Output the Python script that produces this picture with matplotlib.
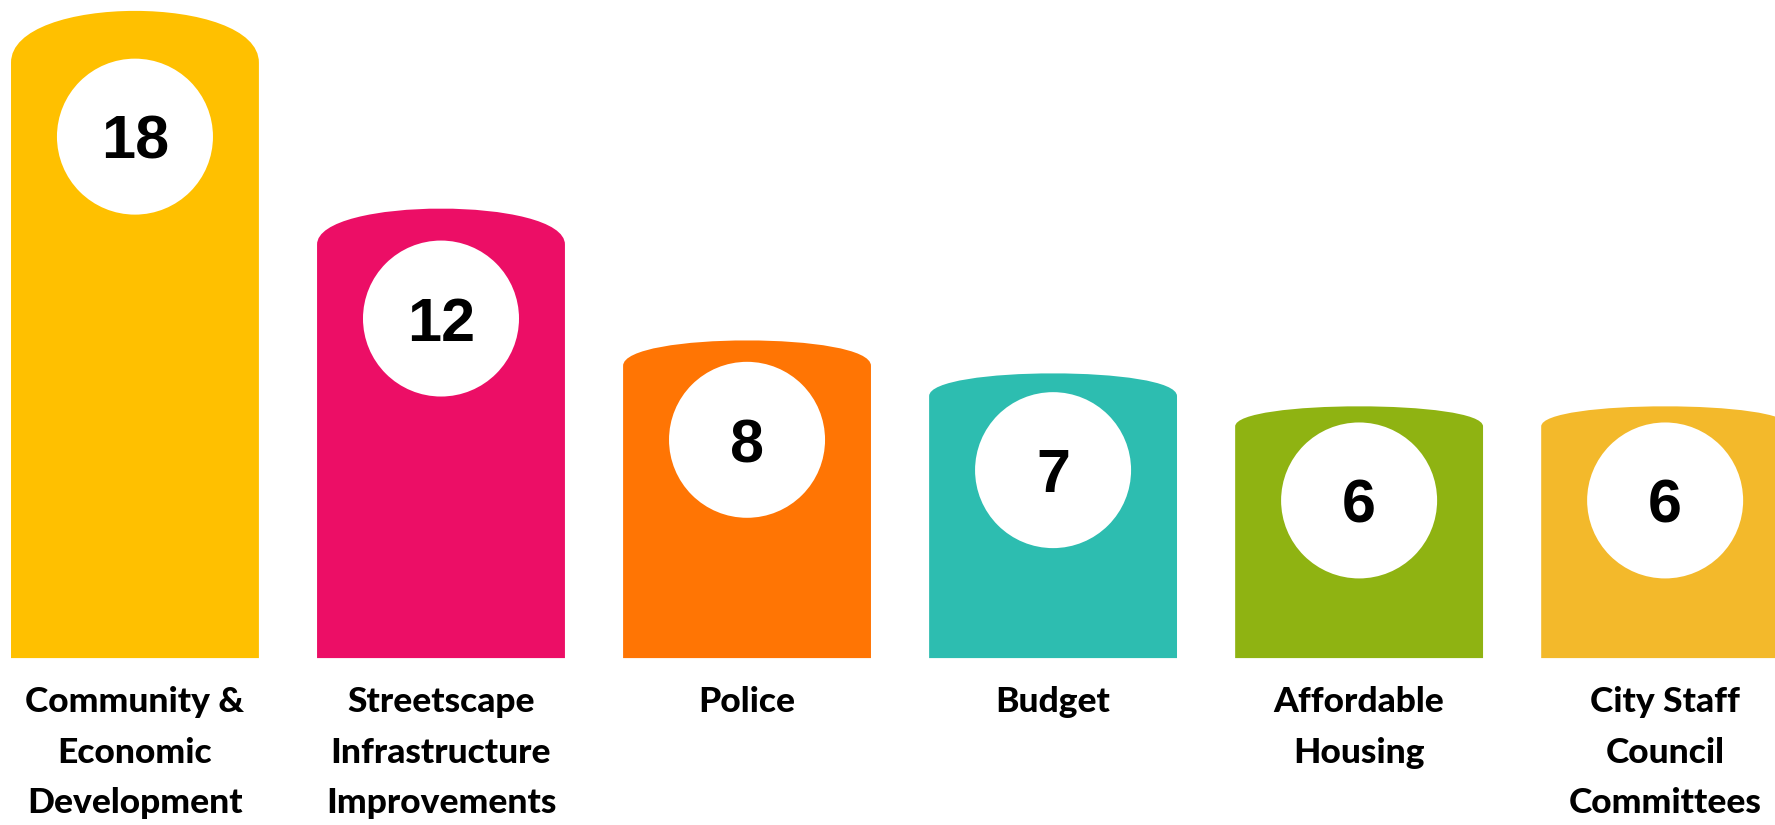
import matplotlib
matplotlib.use("Agg")
import matplotlib.pyplot as plt
from matplotlib.path import Path
from matplotlib.patches import PathPatch, Ellipse

# Data
categories = [
    "Community &\nEconomic\nDevelopment",
    "Streetscape\nInfrastructure\nImprovements",
    "Police",
    "Budget",
    "Affordable\nHousing",
    "City Staff\nCouncil\nCommittees",
]
counts = [18, 12, 8, 7, 6, 6]
colors = ["#FFC000", "#EC0E66", "#FF7504", "#2DBDB0", "#8FB312", "#F3B92B"]

# Layout
W, H, DPI = 17.75, 8.25, 100
BASE = -1.64            # value where the bars start
BAR_W = 0.81            # bar width in category units
PX_X = 306.0            # pixels per category step
PX_Y = 32.96            # pixels per unit of value
DOME_FRAC = 0.08        # dome height as a share of the bar height
CIRCLE_R = 78.0         # circle radius in pixels
CIRCLE_GAP = 74.0       # circle centre below the dome shoulder, pixels

fig = plt.figure(figsize=(W, H), dpi=DPI)
ax = fig.add_axes([0, 0, 1, 1])
ax.set_xlim(-0.441, 5.359)
ax.set_ylim(-6.705, 18.33)
ax.axis("off")

for i, (label, v, c) in enumerate(zip(categories, counts, colors)):
    left, right = i - BAR_W / 2, i + BAR_W / 2
    dome = DOME_FRAC * (v - BASE)
    shoulder = v - dome
    k = 4.0 / 3.0 * dome
    verts = [
        (left, BASE), (left, shoulder),
        (left, shoulder + k), (right, shoulder + k), (right, shoulder),
        (right, BASE), (left, BASE),
    ]
    codes = [Path.MOVETO, Path.LINETO,
             Path.CURVE4, Path.CURVE4, Path.CURVE4,
             Path.LINETO, Path.CLOSEPOLY]
    ax.add_patch(PathPatch(Path(verts, codes), facecolor=c, edgecolor="none"))

    cy = shoulder - CIRCLE_GAP / PX_Y
    ax.add_patch(Ellipse((i, cy), 2 * CIRCLE_R / PX_X, 2 * CIRCLE_R / PX_Y,
                         facecolor="white", edgecolor="none"))
    ax.annotate(str(v), xy=(i, cy), xytext=(0, -16), textcoords="offset points",
                ha="center", va="baseline", fontsize=44, fontweight="bold",
                family="Liberation Sans", color="black")

    ax.annotate(label, xy=(i, BASE), xytext=(0, -20), textcoords="offset points",
                ha="center", va="top", fontsize=25.5, fontweight="black",
                family="Lato", color="black", linespacing=1.72,
                annotation_clip=False)

fig.savefig("out.png", dpi=DPI)
